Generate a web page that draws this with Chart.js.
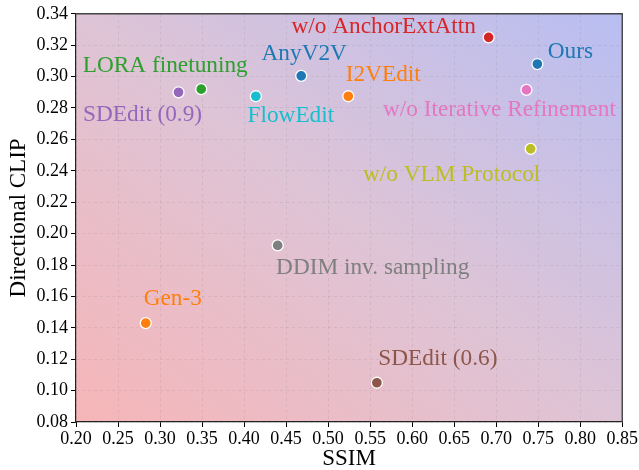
<!DOCTYPE html>
<html>
<head>
<meta charset="utf-8">
<script src="https://cdn.jsdelivr.net/npm/chart.js@4"></script>
<style>
  html, body { margin: 0; padding: 0; background: #fff; }
  #wrap { width: 639px; height: 470px; }
</style>
</head>
<body>
<div id="wrap"><canvas id="scatterChart" width="639" height="470"></canvas></div>
<script>
// values
const methods = ['w/o AnchorExtAttn', 'Ours', 'w/o Iterative Refinement', 'I2VEdit', 'AnyV2V', 'FlowEdit',
                 'LORA finetuning', 'SDEdit (0.9)', 'w/o VLM Protocol', 'DDIM inv. sampling', 'Gen-3', 'SDEdit (0.6)']
const ssim = [0.691, 0.749, 0.736, 0.524, 0.468, 0.414, 0.349, 0.322, 0.741, 0.440, 0.283, 0.558]
const directionalClip = [0.325, 0.308, 0.2915, 0.2875, 0.3005, 0.2875, 0.292, 0.290, 0.254, 0.1925, 0.143, 0.105]
const xTicks = [0.20, 0.25, 0.30, 0.35, 0.40, 0.45, 0.50, 0.55, 0.60, 0.65, 0.70, 0.75, 0.80, 0.85]
const yTicks = [0.08, 0.10, 0.12, 0.14, 0.16, 0.18, 0.20, 0.22, 0.24, 0.26, 0.28, 0.30, 0.32, 0.34]

// styling
const colors = ['#d62728', '#1f77b4', '#e377c2', '#ff7f0e', '#1f77b4', '#17becf',
                '#2ca02c', '#9467bd', '#bcbd22', '#7f7f7f', '#ff7f0e', '#8c564b']
// label centre offset from its point, in pixels
const labelOffsets = [[-105, -10], [33, -12], [-27, 20], [35, -21], [3, -22], [35, 20],
                      [-36, -23], [-36, 23], [-79, 26], [95, 23], [27, -24], [61, -24]]
const serif = "'Liberation Serif', 'Times New Roman', serif"

const gradientBg = {
    id: 'gradientBg',
    beforeDraw(chart){
        const {ctx, chartArea: a} = chart
        ctx.save()
        ctx.translate(a.left, a.bottom)
        ctx.scale(a.right - a.left, a.top - a.bottom)
        const g = ctx.createLinearGradient(0, 0, 1, 1)
        g.addColorStop(0, 'rgb(246,182,184)')
        g.addColorStop(0.5, 'rgb(222,196,214)')
        g.addColorStop(1, 'rgb(184,190,242)')
        ctx.fillStyle = g
        ctx.fillRect(0, 0, 1, 1)
        ctx.restore()
    }
}

const frameAndLabels = {
    id: 'frameAndLabels',
    afterDatasetsDraw(chart){
        const {ctx, chartArea: a, scales} = chart
        ctx.save()
        ctx.strokeStyle = '#444'
        ctx.lineWidth = 1.4
        ctx.beginPath()
        ctx.moveTo(a.left, a.top)
        ctx.lineTo(a.right, a.top)
        ctx.lineTo(a.right, a.bottom)
        ctx.stroke()

        ctx.font = '23.3px ' + serif
        ctx.textAlign = 'center'
        ctx.textBaseline = 'middle'
        methods.forEach((name, i)=>{
            const px = scales.x.getPixelForValue(ssim[i])
            const py = scales.y.getPixelForValue(directionalClip[i])
            ctx.fillStyle = colors[i]
            ctx.fillText(name, px + labelOffsets[i][0], py + labelOffsets[i][1])
        })
        ctx.restore()
    }
}

function renderScatterChart(){
    scatterChart = new Chart(document.querySelector('#scatterChart'), {
        type: 'scatter',
        data: {
            datasets: [{
                data: ssim.map((x, i)=>({x: x, y: directionalClip[i]})),
                pointBackgroundColor: colors,
                pointBorderColor: '#ffffff',
                pointBorderWidth: 1.3,
                pointRadius: 5.5
            }]
        },
        options: {
            responsive: false,
            animation: false,
            layout: {padding: {top: 12, right: 16, left: 0, bottom: 0}},
            plugins: {legend: {display: false}, tooltip: {enabled: false}},
            scales: {
                x: {
                    type: 'linear',
                    min: 0.20, max: 0.85,
                    afterBuildTicks: (s)=>{ s.ticks = xTicks.map(v=>({value: v})) },
                    afterFit: (s)=>{ s.height = 48 },
                    ticks: {
                        color: '#000',
                        font: {family: serif, size: 18},
                        padding: 1,
                        maxRotation: 0,
                        autoSkip: false,
                        callback: (v)=>v.toFixed(2)
                    },
                    grid: {color: 'rgba(120,120,120,0.15)', tickColor: '#000', tickLength: 5, lineWidth: 1},
                    border: {color: '#222', width: 1.2, dash: [3, 3]},
                    title: {display: true, text: 'SSIM', color: '#000', font: {family: serif, size: 23, lineHeight: 1.0}, padding: {top: 3, bottom: 0}}
                },
                y: {
                    type: 'linear',
                    min: 0.08, max: 0.34,
                    afterBuildTicks: (s)=>{ s.ticks = yTicks.map(v=>({value: v})) },
                    afterFit: (s)=>{ s.width = 76 },
                    ticks: {
                        color: '#000',
                        font: {family: serif, size: 18},
                        padding: 3,
                        autoSkip: false,
                        callback: (v)=>v.toFixed(2)
                    },
                    grid: {color: 'rgba(120,120,120,0.15)', tickColor: '#000', tickLength: 5, lineWidth: 1},
                    border: {color: '#222', width: 1.2, dash: [3, 3]},
                    title: {display: true, text: 'Directional CLIP', color: '#000', font: {family: serif, size: 23}, padding: {top: 5, bottom: 0}}
                }
            }
        },
        plugins: [gradientBg, frameAndLabels]
    })
}

let scatterChart
renderScatterChart()
</script>
</body>
</html>
